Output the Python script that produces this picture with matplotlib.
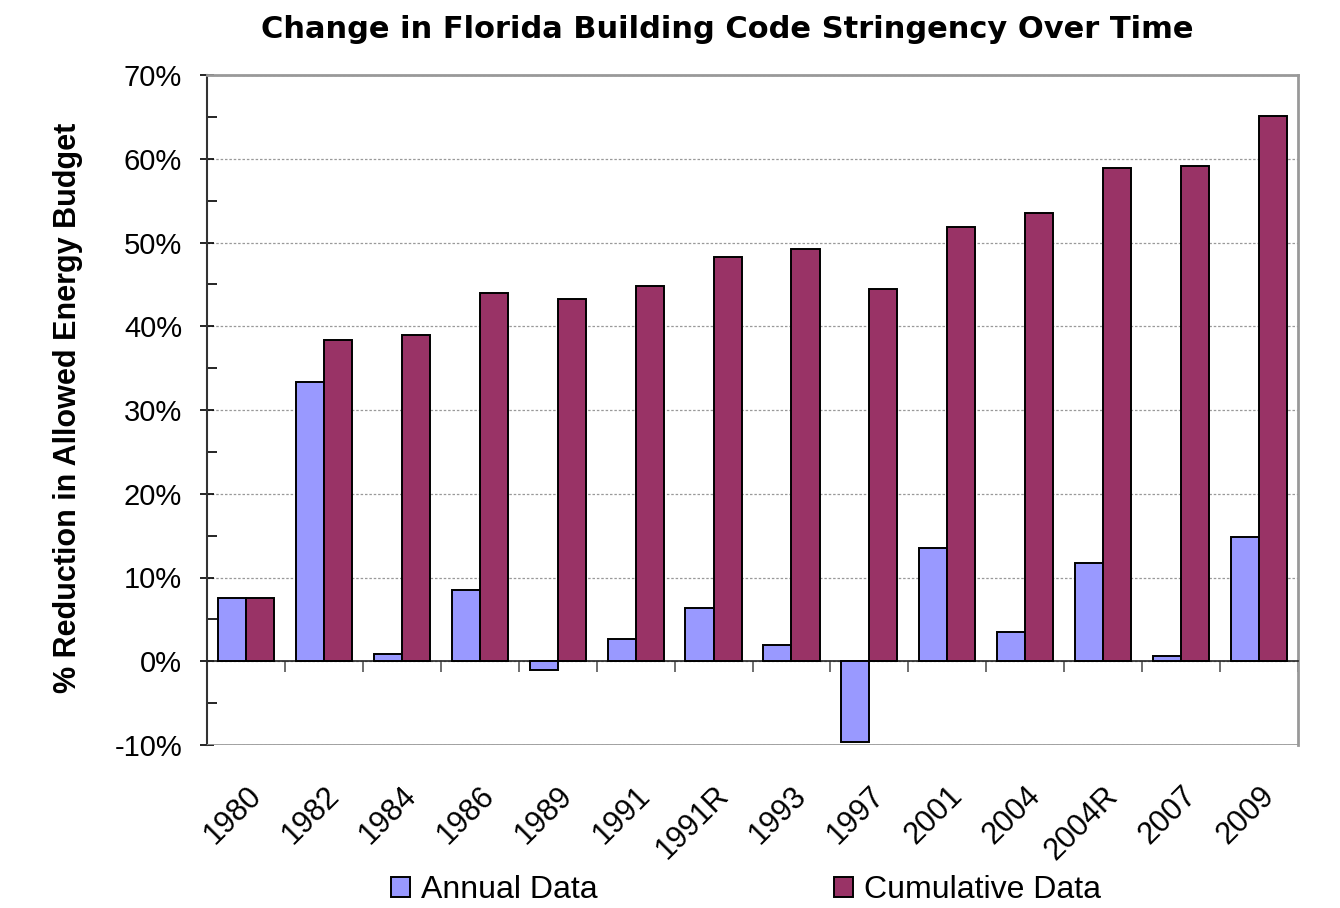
import numpy as np
import matplotlib
matplotlib.use("Agg")
import matplotlib.pyplot as plt
from matplotlib.ticker import MultipleLocator, FuncFormatter

plt.rcParams['font.family'] = ['Liberation Sans', 'DejaVu Sans']

years = ['1980', '1982', '1984', '1986', '1989', '1991', '1991R',
         '1993', '1997', '2001', '2004', '2004R', '2007', '2009']
annual = [7.5, 33.4, 0.85, 8.5, -1.1, 2.6, 6.3,
          1.9, -9.6, 13.5, 3.5, 11.7, 0.6, 14.8]
cumulative = [7.5, 38.4, 38.9, 44.0, 43.3, 44.8, 48.3,
              49.2, 44.4, 51.8, 53.5, 58.9, 59.1, 65.1]

fig = plt.figure(figsize=(13.4, 9.08), dpi=100)
ax = fig.add_axes([207 / 1340, 1 - 745 / 908, (1298 - 207) / 1340, (745 - 75) / 908])

x = np.arange(len(years))
w = 0.36
ax.bar(x - w / 2, annual, w, color='#9999FF', edgecolor='black', linewidth=1.4,
       label='Annual Data', zorder=3)
ax.bar(x + w / 2, cumulative, w, color='#993366', edgecolor='black', linewidth=1.4,
       label='Cumulative Data', zorder=3)

ax.set_xlim(-0.5, len(years) - 0.5)
ax.set_ylim(-10, 70)

# y axis
ax.yaxis.set_major_locator(MultipleLocator(10))
ax.yaxis.set_minor_locator(MultipleLocator(5))
ax.yaxis.set_major_formatter(FuncFormatter(lambda v, p: f'{v:.0f}%'))
ax.tick_params(axis='y', which='major', direction='inout', length=10, width=1.2,
               labelsize=21, pad=13)
ax.tick_params(axis='y', which='minor', direction='in', length=7, width=1.2)
ax.grid(axis='y', which='major', linestyle=(0, (2, 1.5)), color='#999999',
        linewidth=0.9, zorder=0)

# x axis sits on zero, labels pushed down below the frame
ax.spines['bottom'].set_position(('data', 0))
ax.spines['bottom'].set_linewidth(1.2)
ax.spines['bottom'].set_color('#222222')
ax.set_xticks(x)
ax.set_xticklabels(years, rotation=45, ha='right', va='top', rotation_mode='anchor')
ax.set_xticks(np.arange(len(years) + 1) - 0.5, minor=True)
ax.tick_params(axis='x', which='major', length=0, labelsize=22, pad=86)
ax.tick_params(axis='x', which='minor', direction='out', length=8, width=1.2,
               color='#555555')
ax.axhline(-10, color='#999999', linewidth=2, zorder=4)

ax.spines['left'].set_linewidth(1.5)
ax.spines['left'].set_color('#333333')
for s in ['top', 'right']:
    ax.spines[s].set_color('#999999')
    ax.spines[s].set_linewidth(2)

fig.text(727 / 1340, 1 - 30 / 908, 'Change in Florida Building Code Stringency Over Time',
         ha='center', va='center', fontsize=22, fontweight='bold', family='DejaVu Sans')
fig.text(68 / 1340, 1 - 408 / 908, '% Reduction in Allowed Energy Budget',
         ha='center', va='center', rotation=90, fontsize=22, fontweight='bold')

fig.legend(loc='center', bbox_to_anchor=(746 / 1340, 1 - 890 / 908), ncol=2,
           frameon=False, fontsize=23, handlelength=0.6, handleheight=0.6,
           handletextpad=0.35, columnspacing=7.4)

fig.savefig('out.png', dpi=100, facecolor='white')
